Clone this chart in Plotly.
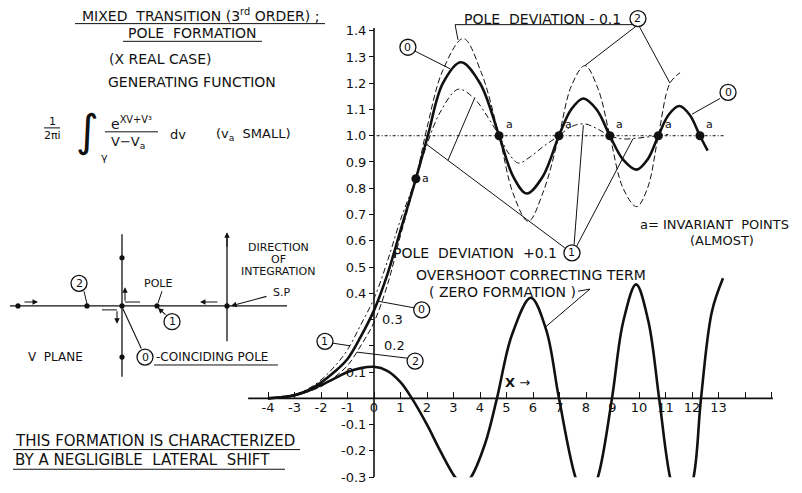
import plotly.graph_objects as go

W, H = 802, 493
FONT = "DejaVu Sans"
INK = "#111111"

# ---------------- data ----------------
# curve 0 : coinciding pole (heavy solid)
x_c0 = [-4, -3.5, -3, -2.5, -2, -1.5, -1, -0.5, 0, 0.5, 1.0, 1.58, 2.03, 2.6, 3.28, 4.0, 4.72,
        5.25, 5.76, 6.37, 6.98, 7.44, 7.9, 8.4, 8.9, 9.4, 9.91, 10.32, 10.73, 11.12, 11.52,
        11.91, 12.3, 12.59]
y_c0 = [0, 0.004, 0.012, 0.03, 0.06, 0.1, 0.15, 0.235, 0.335, 0.47, 0.64, 0.836, 1.0, 1.2, 1.28,
        1.2, 1.0, 0.845, 0.78, 0.845, 1.0, 1.1, 1.142, 1.1, 1.0, 0.909, 0.871, 0.909, 1.0,
        1.08, 1.113, 1.08, 1.0, 0.943]

# curve 1 : pole deviation +0.1 (dash-dot)
x_c1 = [-4, -3.5, -3, -2.5, -2, -1.5, -1, -0.5, 0, 0.5, 1.0, 1.58, 2.0, 2.5, 3.18, 3.8, 4.3,
        4.72, 5.1, 5.45, 5.9, 6.4, 6.98, 7.45, 7.96, 8.45, 8.9, 9.35, 9.85, 10.3, 10.73, 11.1]
y_c1 = [0, 0.005, 0.014, 0.035, 0.07, 0.12, 0.185, 0.28, 0.38, 0.52, 0.68, 0.836, 0.967, 1.09,
        1.177, 1.14, 1.07, 1.0, 0.93, 0.896, 0.92, 0.96, 1.0, 1.035, 1.045, 1.025, 1.0, 0.988,
        0.99, 0.995, 1.0, 1.005]

# curve 2 : pole deviation -0.1 (dashed)
x_c2 = [-4, -3.5, -3, -2.5, -2, -1.5, -1, -0.5, 0, 0.5, 1.0, 1.58, 2.0, 2.6, 3.37, 4.05, 4.72,
        5.25, 5.82, 6.4, 6.98, 7.45, 7.96, 8.45, 8.9, 9.4, 9.91, 10.32, 10.73, 11.17, 11.55]
y_c2 = [0, 0.003, 0.01, 0.025, 0.045, 0.08, 0.125, 0.2, 0.29, 0.43, 0.62, 0.836, 1.03, 1.25,
        1.37, 1.24, 1.0, 0.78, 0.674, 0.79, 1.0, 1.19, 1.267, 1.18, 1.0, 0.8, 0.73, 0.8, 1.0,
        1.2, 1.24]

# overshoot correcting term (zero formation)
x_os = [-4, -3.5, -3, -2.5, -2, -1.5, -1, -0.5, 0, 0.5, 1.0, 1.43, 2.0, 2.5, 3.06, 3.36, 3.66,
        4.2, 4.64, 5.2, 5.92, 6.5, 6.98, 7.6, 8.02, 8.45, 8.98, 9.4, 9.89, 10.35, 10.76, 11.17,
        11.6, 12.06, 12.34, 12.75, 13.17]
y_os = [0, 0.004, 0.012, 0.028, 0.05, 0.075, 0.1, 0.115, 0.12, 0.105, 0.062, 0, -0.1, -0.2,
        -0.3, -0.33, -0.3, -0.17, 0, 0.24, 0.383, 0.26, 0, -0.3, -0.4, -0.3, 0, 0.29, 0.434,
        0.295, 0, -0.3, -0.45, -0.3, 0, 0.33, 0.457]

# invariant points "a"
x_inv = [1.58, 4.72, 6.98, 8.9, 10.73, 12.3]
y_inv = [0.836, 1.0, 1.0, 1.0, 1.0, 1.0]

# axis ticks
x_tickvals = list(range(-4, 16))
x_ticktext = [str(v) for v in range(-4, 14)] + ["", ""]
y_tickvals = [-0.3, -0.2, -0.1, 0.1, 0.2, 0.3, 0.4, 0.5, 0.6, 0.7, 0.8, 0.9, 1.0, 1.1, 1.2,
              1.3, 1.4]
y_ticktext = ["-0.3", "-0.2", "-0.1", "0.1", "", "", "0.4", "0.5", "0.6", "0.7", "0.8",
              "0.9", "1.0", "1.1", "1.2", "1.3", "1.4"]

# ---------------- axis geometry ----------------
X0_PX, X_UNIT = 374, 26.5      # pixel column of x=0, pixels per x unit
Y0_PX, Y_UNIT = 405, 267       # pixel row of y=0, pixels per y unit
Y_BOTTOM_PX = 485
x_range = [-X0_PX / X_UNIT, (W - X0_PX) / X_UNIT]
y_range = [-0.3, Y0_PX / Y_UNIT]

fig = go.Figure()

fig.add_trace(go.Scatter(x=x_os, y=y_os, mode="lines", line=dict(color=INK, width=2.6,
                         shape="spline", smoothing=1.0), hoverinfo="skip"))
fig.add_trace(go.Scatter(x=x_c2, y=y_c2, mode="lines", line=dict(color=INK, width=1,
                         dash="6px,3px", shape="spline", smoothing=1.0), hoverinfo="skip"))
fig.add_trace(go.Scatter(x=x_c1, y=y_c1, mode="lines", line=dict(color=INK, width=1,
                         dash="6px,3px,2px,3px", shape="spline", smoothing=1.0),
                         hoverinfo="skip"))
fig.add_trace(go.Scatter(x=x_c0, y=y_c0, mode="lines", line=dict(color=INK, width=2.6,
                         shape="spline", smoothing=1.0), hoverinfo="skip"))
fig.add_trace(go.Scatter(x=x_inv, y=y_inv, mode="markers",
                         marker=dict(color=INK, size=9), hoverinfo="skip"))

shapes = []
annotations = []


def P(xp, yp):
    """canvas pixel -> paper coordinates"""
    return xp / W, 1 - yp / H


def line(x0, y0, x1, y1, ref="paper", width=1.0, dash=None):
    if ref == "paper":
        (x0, y0), (x1, y1) = P(x0, y0), P(x1, y1)
        xr, yr = "paper", "paper"
    else:
        xr, yr = "x", "y"
    ln = dict(color=INK, width=width)
    if dash:
        ln["dash"] = dash
    shapes.append(dict(type="line", xref=xr, yref=yr, x0=x0, y0=y0, x1=x1, y1=y1, line=ln,
                       layer="above"))


def text(x, y, s, size=13, ref="paper", xanchor="center", **kw):
    if ref == "paper":
        x, y = P(x, y)
        xr, yr = "paper", "paper"
    else:
        xr, yr = "x", "y"
    annotations.append(dict(x=x, y=y, xref=xr, yref=yr, text=s, showarrow=False,
                            xanchor=xanchor, yanchor="middle",
                            font=dict(family=FONT, size=size, color=INK), **kw))


def circled(x, y, label, ref="paper", r=8):
    if ref == "paper":
        x, y = P(x, y)
        xr, yr = "paper", "paper"
    else:
        xr, yr = "x", "y"
    shapes.append(dict(type="circle", xref=xr, yref=yr, xsizemode="pixel",
                       ysizemode="pixel", xanchor=x, yanchor=y, x0=-r, x1=r, y0=-r, y1=r,
                       line=dict(color=INK, width=1.3), fillcolor="white", layer="above"))
    annotations.append(dict(x=x, y=y, xref=xr, yref=yr, text=label, showarrow=False,
                            xanchor="center", yanchor="middle",
                            font=dict(family=FONT, size=11, color=INK)))


def dot(xp, yp, r=2.6):
    x, y = P(xp, yp)
    shapes.append(dict(type="circle", xref="paper", yref="paper", xsizemode="pixel",
                       ysizemode="pixel", xanchor=x, yanchor=y, x0=-r, x1=r, y0=-r, y1=r,
                       line=dict(color=INK, width=0), fillcolor=INK, layer="above"))


def arrow(hx, hy, tx, ty, head=2):
    x, y = P(hx, hy)
    annotations.append(dict(x=x, y=y, xref="paper", yref="paper", ax=tx - hx, ay=ty - hy,
                            text="", showarrow=True, arrowhead=head, arrowsize=1,
                            arrowwidth=1.1, arrowcolor=INK))


# ---- axes drawn as lines ----
line(-4.75, 0, 15.05, 0, ref="data", width=1.6)
line(0, -0.3, 0, 1.41, ref="data", width=1.6)
line(0.1, 1.0, 13.2, 1.0, ref="data", width=1, dash="3px,2px,1px,2px")

# ---- heading ----
text(200, 15, "MIXED  TRANSITION (3<sup>rd</sup> ORDER) ;", 14)
line(75, 24, 325, 24)
text(192, 34, "POLE  FORMATION", 14)
line(123, 42, 262, 42)
text(160, 60, "(X REAL CASE)", 14)
text(192, 83, "GENERATING FUNCTION", 14)

# generating function formula
text(52, 123, "1", 11)
line(44, 130, 60, 130)
text(52, 138, "2πi", 11)
text(87, 133, "∫", 44)
text(104, 160, "γ", 11)
text(131, 125, "e<sup>XV+V³</sup>", 14)
line(105, 134, 158, 134)
text(128, 145, "V−V<sub>a</sub>", 13)
text(178, 137, "dv", 13)
text(254, 137, "(v<sub>a</sub>  SMALL)", 13)

# ---- V plane sketch ----
line(10, 311, 287, 311, width=1.3)
line(122, 238, 122, 383, width=1.3)
line(227, 240, 227, 347, width=1.3)
arrow(227, 236, 227, 252)
for (dx, dy) in [(18, 311), (87, 311), (122, 262), (122, 311), (122, 363), (157, 311),
                 (227, 311)]:
    dot(dx, dy)
arrow(38, 307, 23, 307)
arrow(200, 307, 219, 307)
line(125, 307, 140, 307)
arrow(125, 292, 125, 307)
line(102, 315, 117, 315)
arrow(117, 329, 117, 315)
arrow(158, 313, 167, 321)
line(162, 296, 158, 308)
line(84, 296, 87, 309)
arrow(231, 311, 268, 301)
arrow(123, 314, 142, 355, head=0)
circled(79, 288, "2")
circled(172, 327, "1")
circled(145, 363, "0")
text(158, 288, "POLE", 11)
text(278, 252, "DIRECTION", 11)
text(278, 264, "OF", 11)
text(278, 276, "INTEGRATION", 11)
text(281, 297, "S.P", 11)
text(55, 363, "V  PLANE", 12)
text(154, 363, "-COINCIDING POLE", 12, xanchor="left")
line(154, 371, 278, 371)

text(13, 448, "THIS FORMATION IS CHARACTERIZED", 15, xanchor="left")
line(13, 457, 300, 457)
text(13, 468, "BY A NEGLIGIBLE  LATERAL  SHIFT", 15, xanchor="left")
line(13, 477, 285, 477)

# ---- chart labels (data coordinates) ----
D = "data"
text(6.34, 1.446, "POLE  DEVIATION - 0.1", 14, ref=D)
line(3.06, 1.423, 9.8, 1.423, ref=D)
line(3.06, 1.423, 3.17, 1.365, ref=D)
circled(9.96, 1.446, "2", ref=D)
line(9.9, 1.418, 7.96, 1.267, ref=D)
line(10.0, 1.418, 11.17, 1.2, ref=D)

circled(1.28, 1.337, "0", ref=D)
line(1.55, 1.322, 2.87, 1.255, ref=D)
circled(13.36, 1.165, "0", ref=D)
line(13.06, 1.142, 12.0, 1.082, ref=D)

text(6.97, 0.554, "POLE  DEVIATION  +0.1", 14, ref=D, xanchor="right")
circled(7.47, 0.554, "1", ref=D)
line(7.2, 0.573, 2.0, 0.966, ref=D)
line(2.79, 0.906, 3.81, 1.146, ref=D)
line(7.55, 0.585, 7.9, 1.04, ref=D)
line(7.65, 0.58, 9.77, 0.988, ref=D)

text(9.96, 0.663, "a= INVARIANT  POINTS", 13, ref=D, xanchor="left")
text(13.13, 0.6, "(ALMOST)", 13, ref=D)

text(5.94, 0.468, "OVERSHOOT CORRECTING TERM", 14, ref=D)
text(4.83, 0.404, "( ZERO FORMATION )", 14, ref=D)
line(7.7, 0.408, 8.15, 0.416, ref=D)
line(8.15, 0.416, 6.45, 0.27, ref=D)

circled(1.8, 0.337, "0", ref=D)
line(1.5, 0.345, 0.15, 0.37, ref=D)
circled(-1.85, 0.217, "1", ref=D)
line(-1.55, 0.21, -0.9, 0.2, ref=D)
circled(1.55, 0.142, "2", ref=D)
line(1.25, 0.153, -0.64, 0.176, ref=D)
text(0.22, 0.3, "0.3", 13, ref=D, xanchor="left")
text(0.3, 0.2, "0.2", 13, ref=D, xanchor="left")

text(5.4, 0.06, "<b>X</b> →", 13, ref=D)

for xi, yi in zip(x_inv, y_inv):
    annotations.append(dict(x=xi, y=yi, xref="x", yref="y", text="a", showarrow=False,
                            xshift=10, yshift=(0 if yi < 0.95 else 11),
                            font=dict(family=FONT, size=11, color=INK)))

fig.update_layout(
    width=W, height=H,
    margin=dict(l=0, r=0, t=0, b=0),
    paper_bgcolor="white", plot_bgcolor="white",
    showlegend=False,
    shapes=shapes,
    annotations=annotations,
    xaxis=dict(range=x_range, domain=[0, 1], anchor="free", position=1 - Y0_PX / H,
               showgrid=False, zeroline=False, showline=False,
               tickmode="array", tickvals=x_tickvals, ticktext=x_ticktext,
               ticks="inside", ticklen=6, tickwidth=1.2, tickcolor=INK,
               tickfont=dict(family=FONT, size=13, color=INK)),
    yaxis=dict(range=y_range, domain=[1 - Y_BOTTOM_PX / H, 1], anchor="free",
               position=X0_PX / W,
               showgrid=False, zeroline=False, showline=False,
               tickmode="array", tickvals=y_tickvals, ticktext=y_ticktext,
               ticks="outside", ticklen=5, tickwidth=1.2, tickcolor=INK,
               tickfont=dict(family=FONT, size=13, color=INK)),
)

fig.write_html("out.html")
